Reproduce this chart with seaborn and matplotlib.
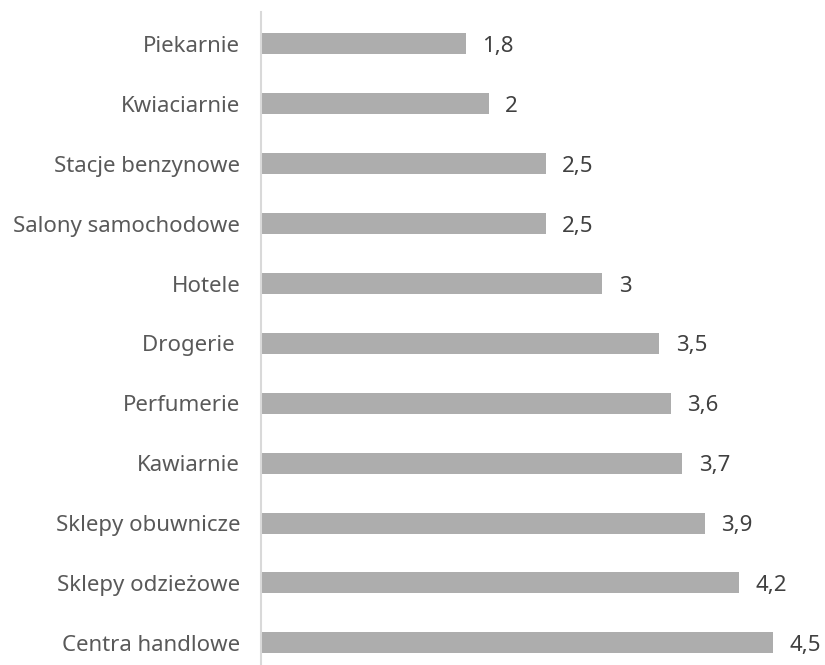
import matplotlib
matplotlib.use("Agg")
import matplotlib.pyplot as plt
import seaborn as sns
import pandas as pd

categories = [
    "Piekarnie", "Kwiaciarnie", "Stacje benzynowe", "Salony samochodowe",
    "Hotele", "Drogerie ", "Perfumerie", "Kawiarnie", "Sklepy obuwnicze",
    "Sklepy odzieżowe", "Centra handlowe",
]
values = [1.8, 2.0, 2.5, 2.5, 3.0, 3.5, 3.6, 3.7, 3.9, 4.2, 4.5]

df = pd.DataFrame({"kategoria": categories, "wartosc": values})

sns.set_theme(style="white")
plt.rcParams["font.family"] = ["Noto Sans", "DejaVu Sans"]

W, H, DPI = 825, 665, 100
fig = plt.figure(figsize=(W / DPI, H / DPI), dpi=DPI)
ax = fig.add_axes([261 / W, 0.0, (W - 261) / W, (H - 12) / H])

sns.barplot(data=df, x="wartosc", y="kategoria", orient="h",
            color="#ADADAD", width=0.35, saturation=1, linewidth=0, ax=ax)

ax.set_xlim(0, (W - 261) / 113.8)
ax.set_ylim(10.37, -0.534)

labels = [f"{v:g}".replace(".", ",") for v in values]
texts = ax.bar_label(ax.containers[0], labels=labels, padding=12,
                     fontsize=16, color="#404040")
for t in texts:
    t.set_va("center_baseline")

ax.set_xlabel("")
ax.set_ylabel("")
ax.set_xticks([])
ax.tick_params(axis="y", length=0, pad=15, labelsize=16, labelcolor="#595959")
for lbl in ax.get_yticklabels():
    lbl.set_va("center_baseline")

for side in ("top", "right", "bottom"):
    ax.spines[side].set_visible(False)
ax.spines["left"].set_color("#D9D9D9")
ax.spines["left"].set_linewidth(1.5)

fig.savefig("out.png", dpi=DPI)
